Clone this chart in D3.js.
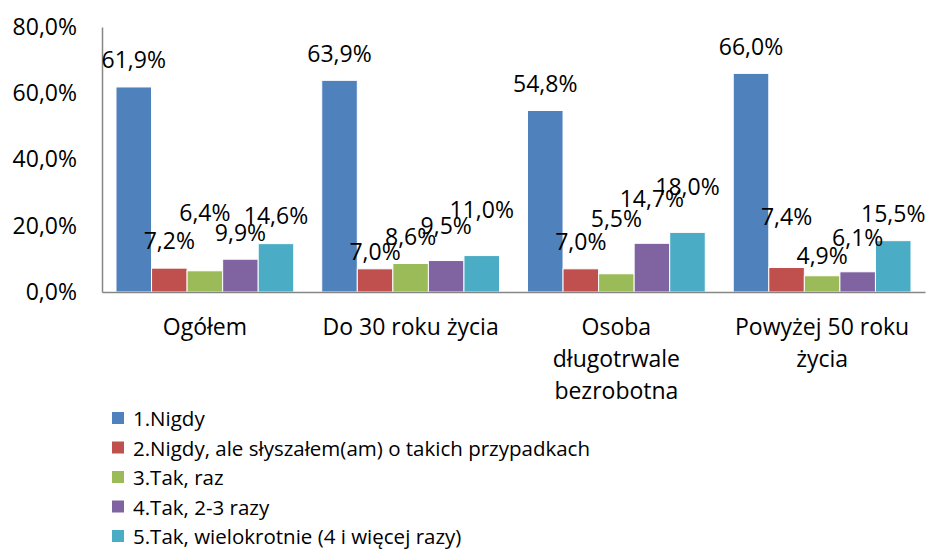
<!DOCTYPE html>
<html>
<head>
<meta charset="utf-8">
<script src="https://cdn.jsdelivr.net/npm/d3@7"></script>
<style>
  body { margin: 0; background: #fff; }
  text { font-family: "Open Sans", "Noto Sans", sans-serif; fill: #000; }
</style>
</head>
<body>
<div class="chart"></div>
<script>
var categories = ["Ogółem", "Do 30 roku życia", "Osoba długotrwale bezrobotna", "Powyżej 50 roku życia"];
var series = [
  "1.Nigdy",
  "2.Nigdy, ale słyszałem(am) o takich przypadkach",
  "3.Tak, raz",
  "4.Tak, 2-3 razy",
  "5.Tak, wielokrotnie (4 i więcej razy)"
];
// one row per category, one value per series (percent)
var values = [
  [61.9, 7.2, 6.4, 9.9, 14.6],
  [63.9, 7.0, 8.6, 9.5, 11.0],
  [54.8, 7.0, 5.5, 14.7, 18.0],
  [66.0, 7.4, 4.9, 6.1, 15.5]
];
var yTicks = [0, 20, 40, 60, 80];

var colors = ["#4F81BD", "#C0504D", "#9BBB59", "#8064A2", "#4BACC6"];
// how far each value label sits above its bar (px), labels were nudged by hand
var labelLift = [
  [27, 27, 58, 26, 28],
  [27, 17, 27, 35, 46],
  [27, 27, 55, 45, 46],
  [27, 51, 20, 34, 27]
];

var width = 930, height = 552;
var plot = { left: 102, right: 925, top: 27, bottom: 292 };

var pl = d3.formatLocale({ decimal: ",", thousands: " ", grouping: [3], currency: ["", "zł"] });
var fmt = pl.format(".1f");

var svg = d3.select(".chart").append("svg")
  .attr("width", width)
  .attr("height", height);

var x0 = d3.scaleBand().domain(categories).range([plot.left, plot.right]).padding(0);
var bw = x0.bandwidth();
var x1 = d3.scaleBand().domain(series).range([bw * 0.068, bw * 0.932]).padding(0);
var y = d3.scaleLinear().domain([0, 80]).range([plot.bottom, plot.top]);

// y axis
var yAxis = svg.append("g")
  .attr("transform", `translate(${plot.left},0)`)
  .call(d3.axisLeft(y).tickValues(yTicks).tickSize(0).tickPadding(25).tickFormat((d) => fmt(d) + "%"));
yAxis.select(".domain").attr("stroke", "#868686").attr("stroke-width", 1.5);
yAxis.selectAll("text").style("font-size", "23px").attr("font-family", null);

// bars
var groups = svg.selectAll("g.cat")
  .data(values)
  .enter().append("g")
  .attr("class", "cat")
  .attr("transform", (d, i) => `translate(${x0(categories[i])},0)`);

groups.selectAll("rect")
  .data((d) => d)
  .enter().append("rect")
  .attr("x", (d, j) => x1(series[j]))
  .attr("y", (d) => y(d))
  .attr("width", x1.bandwidth())
  .attr("height", (d) => y(0) - y(d))
  .attr("fill", (d, j) => colors[j])
  .attr("stroke", "#fff")
  .attr("stroke-width", 1);

// x axis line
var xAxis = svg.append("g")
  .attr("transform", `translate(0,${plot.bottom})`)
  .call(d3.axisBottom(x0).tickSize(0).tickFormat(""));
xAxis.select(".domain").attr("stroke", "#868686").attr("stroke-width", 1.5);

// value labels
groups.each(function (row, i) {
  d3.select(this).selectAll("text.val")
    .data(row)
    .enter().append("text")
    .attr("class", "val")
    .attr("x", (d, j) => x1(series[j]) + x1.bandwidth() / 2)
    .attr("y", (d, j) => y(d) - labelLift[i][j])
    .attr("dy", "0.36em")
    .attr("text-anchor", "middle")
    .style("font-size", "23px")
    .text((d) => fmt(d) + "%");
});

// category labels, wrapped like Excel does
var catLabels = svg.append("g").selectAll("text")
  .data(categories)
  .enter().append("text")
  .attr("x", (d) => x0(d) + bw / 2)
  .attr("y", 335)
  .attr("text-anchor", "middle")
  .style("font-size", "23px")
  .each(function (d) {
    var t = d3.select(this), words = d.split(" "), line = [];
    var tspan = t.append("tspan").attr("x", t.attr("x"));
    words.forEach((w) => {
      line.push(w);
      tspan.text(line.join(" "));
      if (tspan.node().getComputedTextLength() > 190 && line.length > 1) {
        line.pop();
        tspan.text(line.join(" "));
        line = [w];
        tspan = t.append("tspan").attr("x", t.attr("x")).attr("dy", 32).text(w);
      }
    });
  });

// legend
var legend = svg.append("g").attr("transform", "translate(112,412)");
var item = legend.selectAll("g")
  .data(series)
  .enter().append("g")
  .attr("transform", (d, i) => `translate(0,${i * 29.5})`);
item.append("rect")
  .attr("width", 12)
  .attr("height", 12)
  .attr("fill", (d, i) => colors[i]);
item.append("text")
  .attr("x", 21)
  .attr("y", 14)
  .style("font-size", "20.5px")
  .text((d) => d);
</script>
</body>
</html>
